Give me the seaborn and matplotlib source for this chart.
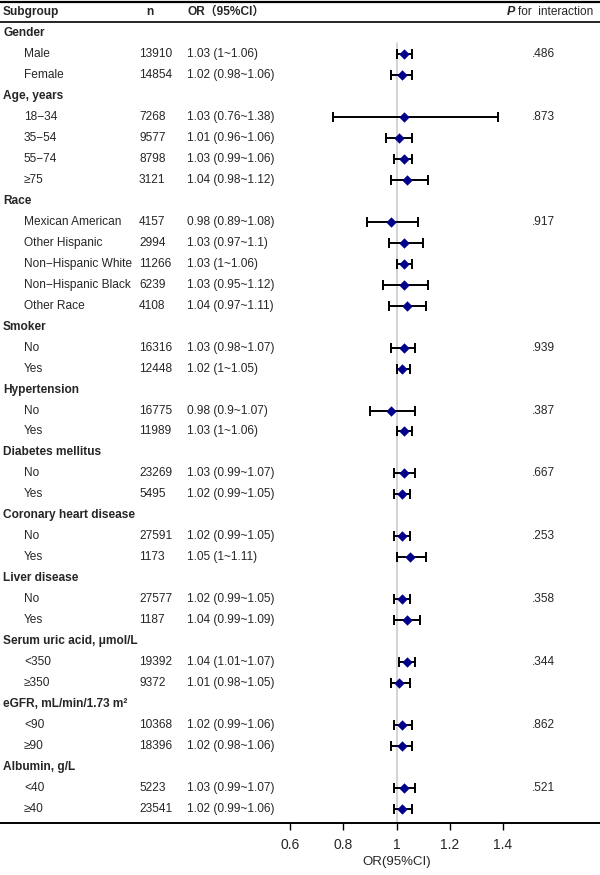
import pandas as pd
import numpy as np
import matplotlib
matplotlib.use("Agg")
import matplotlib.pyplot as plt
import matplotlib.transforms as mtransforms
import seaborn as sns

sns.set_theme(style="white")
plt.rcParams["font.family"] = ["Liberation Sans", "Noto Sans CJK SC", "DejaVu Sans"]

# ── Data ─────────────────────────────────────────────────
groups = ["Gender", "Age, years", "Race", "Smoker", "Hypertension",
          "Diabetes mellitus", "Coronary heart disease", "Liver disease",
          "Serum uric acid, μmol/L", "eGFR, mL/min/1.73 m²", "Albumin, g/L"]
levels = [["Male", "Female"],
          ["18−34", "35−54", "55−74", "≥75"],
          ["Mexican American", "Other Hispanic", "Non−Hispanic White",
           "Non−Hispanic Black", "Other Race"],
          ["No", "Yes"], ["No", "Yes"], ["No", "Yes"], ["No", "Yes"],
          ["No", "Yes"], ["<350", "≥350"], ["<90", "≥90"], ["<40", "≥40"]]
n_obs = [13910, 14854, 7268, 9577, 8798, 3121, 4157, 2994, 11266, 6239, 4108,
         16316, 12448, 16775, 11989, 23269, 5495, 27591, 1173, 27577, 1187,
         19392, 9372, 10368, 18396, 5223, 23541]
or_est = [1.03, 1.02, 1.03, 1.01, 1.03, 1.04, 0.98, 1.03, 1.03, 1.03, 1.04,
          1.03, 1.02, 0.98, 1.03, 1.03, 1.02, 1.02, 1.05, 1.02, 1.04,
          1.04, 1.01, 1.02, 1.02, 1.03, 1.02]
ci_low = [1.00, 0.98, 0.76, 0.96, 0.99, 0.98, 0.89, 0.97, 1.00, 0.95, 0.97,
          0.98, 1.00, 0.90, 1.00, 0.99, 0.99, 0.99, 1.00, 0.99, 0.99,
          1.01, 0.98, 0.99, 0.98, 0.99, 0.99]
ci_high = [1.06, 1.06, 1.38, 1.06, 1.06, 1.12, 1.08, 1.10, 1.06, 1.12, 1.11,
           1.07, 1.05, 1.07, 1.06, 1.07, 1.05, 1.05, 1.11, 1.05, 1.09,
           1.07, 1.05, 1.06, 1.06, 1.07, 1.06]
p_interaction = [".486", ".873", ".917", ".939", ".387", ".667", ".253",
                 ".358", ".344", ".862", ".521"]
x_ticks = [0.6, 0.8, 1.0, 1.2, 1.4]
x_ticklabels = ["0.6", "0.8", "1", "1.2", "1.4"]

# ── Build row table ──────────────────────────────────────
rows = []
k = 0
for g, lv, p in zip(groups, levels, p_interaction):
    rows.append(dict(label=g, header=True, n=None, est=np.nan,
                     lo=np.nan, hi=np.nan, p=None))
    for i, l in enumerate(lv):
        rows.append(dict(label=l, header=False, n=n_obs[k], est=or_est[k],
                         lo=ci_low[k], hi=ci_high[k], p=p if i == 0 else None))
        k += 1
df = pd.DataFrame(rows)
df["row"] = np.arange(len(df))
pts = df[~df["header"]]

# ── Figure ───────────────────────────────────────────────
W, H = 600, 875
fig = plt.figure(figsize=(W / 100, H / 100), dpi=100)
ax = fig.add_axes([0, 1 - 823 / H, 1, 823 / H])

px_per_unit = (503 - 290) / 0.8
ax.set_xlim(0.6 - 290 / px_per_unit, 1.4 + (W - 503) / px_per_unit)
row_h = (809 - 33) / 37
ax.set_ylim((823 - 33) / row_h, -33 / row_h)

# reference line
ax.plot([1, 1], [0.5, ax.get_ylim()[0]], color="#cccccc", lw=1.2, zorder=1)

ax.errorbar(pts["est"], pts["row"], xerr=[pts["est"] - pts["lo"], pts["hi"] - pts["est"]],
            fmt="none", ecolor="black", elinewidth=1.4, capsize=3.4, capthick=1.4, zorder=2)
sns.scatterplot(data=pts, x="est", y="row", marker="D", s=28, color="#00008b",
                edgecolor="#00008b", linewidth=0, ax=ax, zorder=3, legend=False)

for s in ["top", "left", "right"]:
    ax.spines[s].set_visible(False)
ax.spines["bottom"].set_linewidth(1.4)
ax.spines["bottom"].set_color("black")
ax.set_yticks([])
ax.set_xticks(x_ticks)
ax.set_xticklabels(x_ticklabels, fontsize=10)
ax.tick_params(axis="x", bottom=True, direction="out", length=5, width=1,
               color="black", pad=6)
ax.set_xlabel("")
ax.set_ylabel("")
ax.text(1.0, ax.get_ylim()[0] + 1.85, "OR(95%CI)", ha="center", va="center", fontsize=9.5)

# ── Table text ───────────────────────────────────────────
tr = mtransforms.blended_transform_factory(fig.transFigure, ax.transData)
fx = lambda px: px / W
fs = 8.6

hy = -1.0
ax.text(fx(3), hy, "Subgroup", transform=tr, fontsize=fs, fontweight="bold", va="center")
ax.text(fx(146), hy, "n", transform=tr, fontsize=fs, fontweight="bold", va="center")
ax.text(fx(187), hy, "OR（95%CI）", transform=tr, fontsize=fs, fontweight="bold", va="center")
ax.text(fx(515), hy, "P", transform=tr, fontsize=fs + 0.4, fontweight="bold",
        fontstyle="italic", va="center", ha="right")
ax.text(fx(593), hy, "for  interaction", transform=tr, fontsize=fs, va="center", ha="right")

for _, r in df.iterrows():
    if r["header"]:
        ax.text(fx(3), r["row"], r["label"], transform=tr, fontsize=fs,
                fontweight="bold", va="center")
    else:
        ax.text(fx(24), r["row"], r["label"], transform=tr, fontsize=fs, va="center")
        ax.text(fx(139), r["row"], f"{int(r['n'])}", transform=tr, fontsize=fs, va="center")
        ax.text(fx(187), r["row"], f"{r['est']:g} ({r['lo']:g}~{r['hi']:g})",
                transform=tr, fontsize=fs, va="center")
    if r["p"]:
        ax.text(fx(532), r["row"], r["p"], transform=tr, fontsize=fs, va="center")

# header rules
ax.plot([0, 1], [-1.48, -1.48], transform=tr, color="black", lw=1.6, clip_on=False)
ax.plot([0, 1], [-0.52, -0.52], transform=tr, color="black", lw=1.2, clip_on=False)

fig.savefig("out.png", dpi=100)
plt.close(fig)
